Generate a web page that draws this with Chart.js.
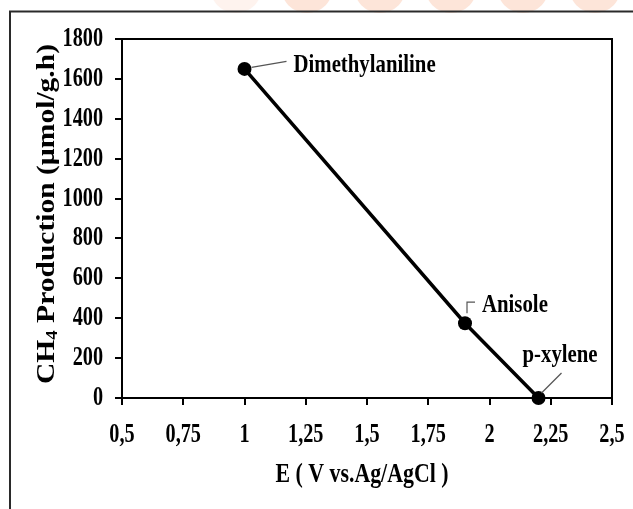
<!DOCTYPE html>
<html>
<head>
<meta charset="utf-8">
<script src="https://cdn.jsdelivr.net/npm/chart.js@4.4.1/dist/chart.umd.min.js"></script>
<style>
    html, body { margin: 0; padding: 0; background: #ffffff; }
    #chart { display: block; }
</style>
</head>
<body>
<canvas id="chart" width="633" height="509"></canvas>
<script>
// Data
const compounds = ['Dimethylaniline', 'Anisole', 'p-xylene'];
const potentials = [1, 1.9, 2.2];
const ch4Production = [1650, 375, 0];

const xTickValues = [0.5, 0.75, 1, 1.25, 1.5, 1.75, 2, 2.25, 2.5];
const xTickLabels = ['0,5', '0,75', '1', '1,25', '1,5', '1,75', '2', '2,25', '2,5'];
const yTickValues = [0, 200, 400, 600, 800, 1000, 1200, 1400, 1600, 1800];
const yTickLabels = ['0', '200', '400', '600', '800', '1000', '1200', '1400', '1600', '1800'];

// Label placement relative to each point (pixels)
const labelStyles = [
    { dx: 49, dy: 3, leader: [[7, -1.5], [42, -7.5]] },
    { dx: 17, dy: -11, leader: [[2, -10], [2, -21], [10, -21]] },
    { dx: -16, dy: -36, leader: [[3, -5], [23, -25]] }
];

const FONT = '"Liberation Serif", "Times New Roman", serif';

/**
 * Draw text squeezed or stretched horizontally
 */
function drawScaledText(ctx, text, x, y, sx, align) {
    ctx.save();
    ctx.translate(x, y);
    ctx.scale(sx, 1);
    ctx.textAlign = align;
    ctx.fillText(text, 0, 0);
    ctx.restore();
}

// Page background, watermark and outer frame
const backgroundPlugin = {
    id: 'background',
    beforeDraw(chart) {
        const ctx = chart.ctx;
        ctx.save();
        ctx.fillStyle = '#ffffff';
        ctx.fillRect(0, 0, chart.width, chart.height);

        const centers = [236, 307, 380, 451, 523, 595];
        centers.forEach((cx, i) => {
            ctx.fillStyle = i === 0 ? '#fef3ee' : '#fde5d9';
            ctx.beginPath();
            ctx.arc(cx, -13, 26, 0, Math.PI * 2);
            ctx.fill();
        });

        ctx.strokeStyle = '#2a2a2a';
        ctx.lineWidth = 2;
        ctx.beginPath();
        ctx.moveTo(633, 11.5);
        ctx.lineTo(10, 11.5);
        ctx.lineTo(10, 509);
        ctx.stroke();
        ctx.restore();
    }
};

// Box, tick labels, titles and point labels
const textPlugin = {
    id: 'texts',
    afterDraw(chart) {
        const ctx = chart.ctx;
        const area = chart.chartArea;
        const xScale = chart.scales.x;
        const yScale = chart.scales.y;

        ctx.save();
        ctx.strokeStyle = '#000000';
        ctx.lineWidth = 2;
        ctx.beginPath();
        ctx.moveTo(area.left, area.top);
        ctx.lineTo(area.right, area.top);
        ctx.lineTo(area.right, area.bottom);
        ctx.stroke();

        ctx.fillStyle = '#000000';
        ctx.font = 'bold 27px ' + FONT;
        ctx.textBaseline = 'middle';
        xTickValues.forEach((v, i) => {
            drawScaledText(ctx, xTickLabels[i], xScale.getPixelForValue(v), 435, 0.75, 'center');
        });
        yTickValues.forEach((v, i) => {
            drawScaledText(ctx, yTickLabels[i], 103, yScale.getPixelForValue(v), 0.75, 'right');
        });

        // x axis title
        ctx.textBaseline = 'alphabetic';
        ctx.font = 'bold 28px ' + FONT;
        drawScaledText(ctx, 'E ( V vs.Ag/AgCl )', 362, 482, 0.78, 'center');

        // y axis title, rotated
        ctx.save();
        ctx.translate(54, 214);
        ctx.rotate(-Math.PI / 2);
        const big = 'bold 25px ' + FONT;
        const small = 'bold 16px ' + FONT;
        const parts = [['CH', big, 0], ['4', small, 3], [' Production (\u00b5mol/g.h)', big, 0]];
        let total = 0;
        parts.forEach(p => { ctx.font = p[1]; total += ctx.measureText(p[0]).width; });
        const sx = 340 / total;
        ctx.scale(sx, 1);
        let pos = -total / 2;
        ctx.textAlign = 'left';
        parts.forEach(p => {
            ctx.font = p[1];
            ctx.fillText(p[0], pos, p[2]);
            pos += ctx.measureText(p[0]).width;
        });
        ctx.restore();

        // point labels with leader lines
        ctx.font = 'bold 26px ' + FONT;
        compounds.forEach((name, i) => {
            const px = xScale.getPixelForValue(potentials[i]);
            const py = yScale.getPixelForValue(ch4Production[i]);
            const st = labelStyles[i];
            ctx.strokeStyle = '#555555';
            ctx.lineWidth = 1.2;
            ctx.beginPath();
            st.leader.forEach((pt, j) => {
                if (j === 0) ctx.moveTo(px + pt[0], py + pt[1]);
                else ctx.lineTo(px + pt[0], py + pt[1]);
            });
            ctx.stroke();
            drawScaledText(ctx, name, px + st.dx, py + st.dy, 0.8, 'left');
        });
        ctx.restore();
    }
};

document.addEventListener('DOMContentLoaded', function() {
    const ctx = document.getElementById('chart').getContext('2d');

    const axisCommon = {
        type: 'linear',
        grid: {
            display: true,
            drawOnChartArea: false,
            drawTicks: true,
            tickLength: 7,
            color: '#000000',
            lineWidth: 2
        },
        border: { display: true, color: '#000000', width: 2 },
        ticks: { display: false }
    };

    window.ch4Chart = new Chart(ctx, {
        type: 'scatter',
        data: {
            datasets: [{
                label: 'CH4',
                data: potentials.map((x, i) => ({ x: x, y: ch4Production[i] })),
                showLine: true,
                borderColor: '#000000',
                borderWidth: 3.5,
                tension: 0,
                pointRadius: 7,
                pointBorderWidth: 0,
                pointBackgroundColor: '#000000',
                clip: false
            }]
        },
        options: {
            responsive: false,
            animation: false,
            layout: { padding: { left: 0, right: 21, top: 39, bottom: 0 } },
            plugins: {
                legend: { display: false },
                tooltip: { enabled: false }
            },
            scales: {
                x: Object.assign({}, axisCommon, {
                    min: 0.5,
                    max: 2.5,
                    afterBuildTicks: scale => { scale.ticks = xTickValues.map(v => ({ value: v })); },
                    afterFit: scale => { scale.height = 111; }
                }),
                y: Object.assign({}, axisCommon, {
                    min: 0,
                    max: 1800,
                    afterBuildTicks: scale => { scale.ticks = yTickValues.map(v => ({ value: v })); },
                    afterFit: scale => { scale.width = 122; }
                })
            }
        },
        plugins: [backgroundPlugin, textPlugin]
    });
});
</script>
</body>
</html>
